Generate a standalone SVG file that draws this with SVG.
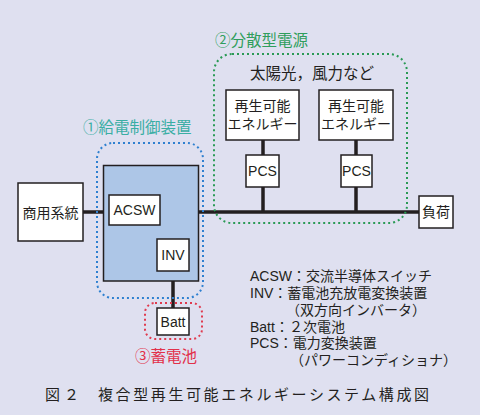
<svg xmlns="http://www.w3.org/2000/svg" width="480" height="415" viewBox="0 0 480 415">
<defs>
<style>
text{font-family:"Liberation Sans","Noto Sans CJK JP",sans-serif;fill:#231f20}
.box{fill:#fff;stroke:#231f20;stroke-width:1.5}
.bus{stroke:#231f20;stroke-width:3.5;fill:none}
.t14{font-size:14px}
.lbl{font-size:15.5px}
.leg{font-size:14px}
</style>
</defs>
<rect x="0" y="0" width="480" height="415" fill="#dfe0f0"/>

<g id="connectors">
<line class="bus" x1="83" y1="212" x2="419" y2="212"/>
<line class="bus" x1="173" y1="212" x2="173" y2="308"/>
<line class="bus" x1="263" y1="140" x2="263" y2="212"/>
<line class="bus" x1="356" y1="140" x2="356" y2="212"/>
</g>

<g id="group-kyuden">
<rect x="97" y="143" width="106" height="155" rx="16" fill="none" stroke="#2f80d0" stroke-width="2" stroke-dasharray="2,3"/>
<rect x="103.5" y="165.5" width="95" height="115.5" fill="#adc6e7" stroke="#231f20" stroke-width="1.5"/>
<text x="83" y="133" class="lbl" style="fill:#3aaea4">①給電制御装置</text>
</g>

<g id="group-bunsan">
<rect x="214" y="54" width="193" height="169" rx="18" fill="none" stroke="#2a9a55" stroke-width="2" stroke-dasharray="2,3"/>
<text x="215" y="46" class="lbl" style="fill:#2f9e5c">②分散型電源</text>
<text x="312" y="79" class="lbl" text-anchor="middle">太陽光，風力など</text>
</g>

<g id="group-battery">
<rect x="145" y="303" width="57" height="36" rx="10" fill="none" stroke="#e03a4e" stroke-width="2" stroke-dasharray="2,3"/>
<text x="135" y="362" class="lbl" style="fill:#e2304a">③蓄電池</text>
</g>

<g id="shoyo">
<rect class="box" x="18" y="183" width="65" height="58"/>
<text x="50.5" y="218" class="t14" text-anchor="middle">商用系統</text>
</g>

<g id="acsw">
<rect class="box" x="109" y="195" width="51" height="30"/>
<text x="134.5" y="215" class="t14" text-anchor="middle">ACSW</text>
</g>

<g id="inv">
<rect class="box" x="157" y="239" width="32" height="32"/>
<text x="173" y="260" class="t14" text-anchor="middle">INV</text>
</g>

<g id="batt">
<rect class="box" x="157" y="308" width="32" height="27"/>
<text x="173" y="326.5" class="t14" text-anchor="middle">Batt</text>
</g>

<g id="re1">
<rect class="box" x="226" y="90" width="73" height="50"/>
<text x="262.5" y="111" class="t14" text-anchor="middle">再生可能</text>
<text x="262.5" y="129" class="t14" text-anchor="middle">エネルギー</text>
</g>

<g id="re2">
<rect class="box" x="319" y="90" width="74" height="50"/>
<text x="356" y="111" class="t14" text-anchor="middle">再生可能</text>
<text x="356" y="129" class="t14" text-anchor="middle">エネルギー</text>
</g>

<g id="pcs1">
<rect class="box" x="246" y="155" width="33" height="32"/>
<text x="262.5" y="176" class="t14" text-anchor="middle">PCS</text>
</g>

<g id="pcs2">
<rect class="box" x="341" y="155" width="31" height="32"/>
<text x="356.5" y="176" class="t14" text-anchor="middle">PCS</text>
</g>

<g id="fuka">
<rect class="box" x="419" y="196" width="34" height="32"/>
<text x="436" y="217" class="t14" text-anchor="middle">負荷</text>
</g>

<g id="legend" class="leg">
<text x="250" y="281">ACSW：交流半導体スイッチ</text>
<text x="250" y="298">INV：蓄電池充放電変換装置</text>
<text x="286" y="315">（双方向インバータ）</text>
<text x="250" y="332">Batt：２次電池</text>
<text x="250" y="348">PCS：電力変換装置</text>
<text x="290" y="365">（パワーコンディショナ）</text>
</g>

<g id="caption">
<text x="45" y="400" font-size="15" letter-spacing="4">図２</text>
<text x="98" y="400" font-size="15" letter-spacing="2.6">複合型再生可能エネルギーシステム構成図</text>
</g>
</svg>
